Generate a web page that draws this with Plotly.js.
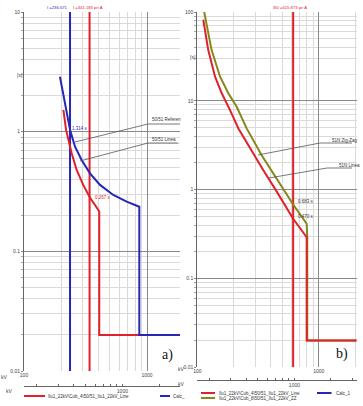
<!DOCTYPE html>
<html><head><meta charset="utf-8">
<script src="https://cdn.plot.ly/plotly-3.0.1.min.js"></script>
<style>html,body{margin:0;padding:0;background:#fff}#chart{width:363px;height:406px}</style>
</head><body><div id="chart"></div>
<script>
// ---------- data (a) ----------
const aBlueCurveX = [196, 215, 237, 260, 294, 344, 415, 532, 684, 866, 866, 1860];
const aBlueCurveY = [2.88, 1.73, 1.03, 0.749, 0.58, 0.449, 0.359, 0.296, 0.26, 0.236, 0.02, 0.02];
const aRedCurveX  = [209, 220, 244, 268, 303, 344, 378, 409, 409, 1860];
const aRedCurveY  = [1.52, 1.03, 0.66, 0.479, 0.359, 0.28, 0.244, 0.215, 0.02, 0.02];
const aBlueLineX = 236.671;
const aRedLineX = 341.183;
// ---------- data (b) ----------
const bRedCurveX   = [112, 123, 140, 159, 186, 218, 350, 384, 441, 616, 796, 796, 2056];
const bRedCurveY   = [81.8, 37.5, 18.7, 12.15, 7.87, 4.89, 1.65, 1.33, 1.0, 0.47, 0.291, 0.02, 0.02];
const bOliveCurveX = [114, 131, 154, 180, 211, 255, 339, 511, 616, 796, 805, 805, 2056];
const bOliveCurveY = [100, 37.5, 18.7, 12.15, 8.58, 4.89, 2.44, 1.0, 0.68, 0.413, 0.291, 0.02, 0.02];
const bRedLineX = 615.873;
// ---------- ticks ----------
const xMajorTicks = [100, 1000];
const xMajorLabels = ['100', '1000'];
const xMinorTicks = [200,300,400,500,600,700,800,900,2000];
const aYTicks = [0.01, 0.1, 1, 10];
const aYLabels = ['0.01', '0.1', '1', '10'];
const bYTicks = [0.01, 0.1, 1, 10, 100];
const bYLabels = ['0.01', '0.1', '1', '10', '100'];
const yMinorTicks = [];
[0.01, 0.1, 1, 10].forEach(d => { for (let k = 2; k <= 9; k++) yMinorTicks.push(+(d*k).toPrecision(3)); });
const rulerTicks = [200,300,400,500,600,700,800,900,1000,2000,3000];
const rulerLabels = rulerTicks.map(v => v === 1000 ? '1000' : '');
const legendA = ['Ilu1_22kV\\Cub_4\\50/51_Ilu1_22kV_Line', 'Calc_'];
const legendB = ['Ilu1_22kV\\Cub_4\\50/51_Ilu1_22kV_Line', 'Ilu1_22kV\\Cub_8\\50/51_Ilu1_22kV_ZZ', 'Calc_1'];

// ---------- styles ----------
const W = 363, H = 406;
const px = x => x / W, py = y => 1 - y / H;
const RED = '#e0202a', BLUE = '#2626b8', OLIVE = '#86861a';
const MAJ = '#8a8a8a', MIN = '#dadada';
const FONT = 'Liberation Sans, Arial, sans-serif';

const traces = [
  {x:[aBlueLineX,aBlueLineX], y:[0.01,10], xaxis:'x', yaxis:'y', mode:'lines', line:{color:BLUE,width:2}},
  {x:[aRedLineX,aRedLineX], y:[0.01,10], xaxis:'x', yaxis:'y', mode:'lines', line:{color:RED,width:2}},
  {x:aRedCurveX, y:aRedCurveY, xaxis:'x', yaxis:'y', mode:'lines', line:{color:RED,width:2}},
  {x:aBlueCurveX, y:aBlueCurveY, xaxis:'x', yaxis:'y', mode:'lines', line:{color:BLUE,width:2}},
  {x:[bRedLineX,bRedLineX], y:[0.01,100], xaxis:'x2', yaxis:'y2', mode:'lines', line:{color:RED,width:2}},
  {x:bOliveCurveX, y:bOliveCurveY, xaxis:'x2', yaxis:'y2', mode:'lines', line:{color:OLIVE,width:2}},
  {x:bRedCurveX, y:bRedCurveY, xaxis:'x2', yaxis:'y2', mode:'lines', line:{color:RED,width:2}},
  {x:[], y:[], xaxis:'x3', yaxis:'y', mode:'lines'},
  {x:[], y:[], xaxis:'x4', yaxis:'y2', mode:'lines'}
].map(t => Object.assign({showlegend:false, hoverinfo:'skip'}, t));

function xax(dom, range, anchor) {
  return {type:'log', domain:dom, range:range, anchor:anchor, tickvals:xMajorTicks, ticktext:xMajorLabels,
    showgrid:true, gridcolor:MAJ, gridwidth:1, zeroline:false, showline:false, ticks:'', ticklen:0,
    tickfont:{size:5, color:'#444', family:FONT},
    minor:{tickvals:xMinorTicks, showgrid:true, gridcolor:MIN, gridwidth:1, ticks:''}, fixedrange:true};
}
function yax(dom, range, anchor, tv, tt) {
  return {type:'log', domain:dom, range:range, anchor:anchor, tickvals:tv, ticktext:tt,
    showgrid:true, gridcolor:MAJ, gridwidth:1, zeroline:false, showline:true, linecolor:'#666', linewidth:1,
    ticks:'outside', ticklen:2, tickcolor:'#888', tickfont:{size:5, color:'#444', family:FONT},
    minor:{tickvals:yMinorTicks, showgrid:true, gridcolor:MIN, gridwidth:1, ticks:'outside', ticklen:2, tickcolor:'#aaa'},
    fixedrange:true};
}
function ruler(dom, range, overl, ypos) {
  return {type:'log', domain:dom, range:range, overlaying:overl, anchor:'free', position:py(ypos), side:'bottom',
    tickvals:rulerTicks, ticktext:rulerLabels, showgrid:false, zeroline:false, showline:true, linecolor:'#666',
    linewidth:1, ticks:'inside', ticklen:2, tickcolor:'#666', tickfont:{size:5, color:'#444', family:FONT}, fixedrange:true};
}

const ann = [];
function txt(text, x, y, color, size, xanchor, family) {
  ann.push({text:text, xref:'paper', yref:'paper', x:px(x), y:py(y), xanchor:xanchor||'left', yanchor:'middle',
    showarrow:false, borderpad:0, font:{size:size||4.5, color:color||'#333', family:family||FONT}});
}
const shapes = [];
function seg(x0, y0, x1, y1, color, width) {
  shapes.push({type:'line', xref:'paper', yref:'paper', x0:px(x0), y0:py(y0), x1:px(x1), y1:py(y1),
    line:{color:color||'#555', width:width||0.8}, layer:'above'});
}

// panel (a) texts
txt('I =236.671', 68.5, 7, BLUE, 4.2, 'right');
txt('I =341.183 pri A', 72, 7, RED, 4.2);
txt('[s]', 16, 75, '#444', 5);
txt('1.314 s', 71, 128, BLUE);
txt('0.267 s', 94, 197, RED);
txt('50/51 Referen', 151, 119, '#333');
txt('50/51 Linea', 151, 139, '#333');
seg(75, 142, 148, 124); seg(148, 124, 180, 124);
seg(80, 161, 148, 143); seg(148, 143, 178, 143);
txt('a)', 167, 355, '#111', 14, 'center', 'Liberation Serif, Times New Roman, serif');
txt('kV', 9, 377, '#444', 5, 'right');
txt('kV', 14, 391, '#444', 5, 'right');
seg(24, 396, 45, 396, RED, 2); txt(legendA[0], 47, 396, '#333');
seg(160, 396, 170, 396, BLUE, 2); txt(legendA[1], 172, 396, '#333');

// panel (b) texts
shapes.push({type:'rect', xref:'paper', yref:'paper', x0:px(180.5), x1:1, y0:0, y1:1, fillcolor:'#fff', line:{width:0}, layer:'below'});
txt('3I0 =615.873 pri A', 272, 7, RED, 4.2);
txt('[s]', 189, 57, '#444', 5);
txt('51N Zig-Zag', 331, 140, '#333');
txt('51N Linea', 338, 165, '#333');
seg(258, 155, 320, 143); seg(320, 143, 352, 143);
seg(269, 178, 327, 168); seg(327, 168, 352, 168);
txt('0.683 s', 297, 201, '#333');
txt('0.470 s', 297, 216, '#333');
txt('b)', 342, 354, '#111', 14, 'center', 'Liberation Serif, Times New Roman, serif');
txt('kV', 186, 369, '#444', 5, 'right');
txt('kV', 186, 384, '#444', 5, 'right');
seg(201, 393, 215, 393, RED, 2); txt(legendB[0], 218, 393, '#333');
seg(201, 398, 215, 398, OLIVE, 2); txt(legendB[1], 218, 398, '#333');
seg(317, 393, 331.5, 393, BLUE, 2); txt(legendB[2], 335, 393, '#333');

const layout = {
  width:W, height:H, margin:{l:0, r:0, t:0, b:0}, paper_bgcolor:'#fff', plot_bgcolor:'rgba(0,0,0,0)',
  showlegend:false,
  xaxis: xax([px(24), px(180)], [2, 3.2683], 'y'),
  yaxis: yax([py(371), py(12)], [-2, 1], 'x', aYTicks, aYLabels),
  xaxis2: xax([px(197.3), px(356.7)], [2, 3.313], 'y2'),
  yaxis2: yax([py(367.3), py(12)], [-2, 2], 'x2', bYTicks, bYLabels),
  xaxis3: ruler([px(24), px(180)], [2.2, 3.4683], 'x', 386),
  xaxis4: ruler([px(197.3), px(356.7)], [2.2, 3.513], 'x2', 380),
  annotations: ann, shapes: shapes
};

Plotly.newPlot('chart', traces, layout, {staticPlot:true, displayModeBar:false});
</script></body></html>
